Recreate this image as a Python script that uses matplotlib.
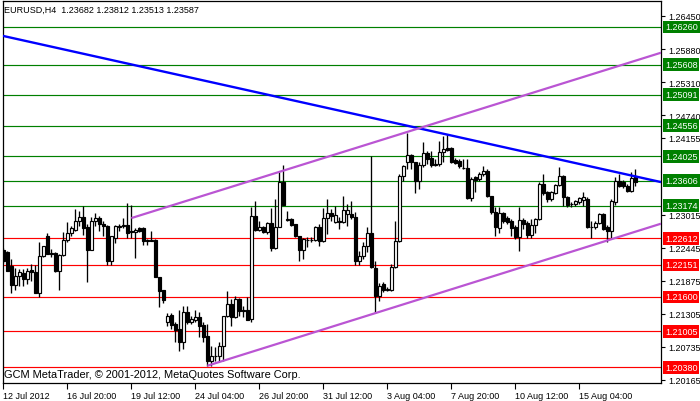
import numpy as np
import matplotlib.pyplot as plt
import matplotlib.transforms as mtransforms

plt.rcParams['font.family'] = ['Liberation Sans', 'DejaVu Sans']

# EURUSD H4 bars
opens = [1.2241, 1.2238, 1.2213, 1.2181, 1.2196, 1.2201, 1.2191, 1.2206, 1.2203, 1.2167,
         1.2231, 1.2265, 1.2236, 1.2236, 1.2205, 1.2232, 1.2258, 1.2270, 1.2276, 1.2291,
         1.2298, 1.2281, 1.2241, 1.2291, 1.2296, 1.2286, 1.2282, 1.2222, 1.2262, 1.2281,
         1.2282, 1.2284, 1.2274, 1.2272, 1.2279, 1.2279, 1.2258, 1.2258, 1.2258, 1.2194,
         1.2172, 1.2117, 1.2129, 1.2113, 1.2105, 1.2082, 1.2134, 1.2117, 1.2120, 1.2125,
         1.2111, 1.2092, 1.2049, 1.2058, 1.2058, 1.2075, 1.2127, 1.2148, 1.2125, 1.2156,
         1.2137, 1.2137, 1.2122, 1.2300, 1.2276, 1.2281, 1.2272, 1.2288, 1.2244, 1.2281,
         1.2358, 1.2293, 1.2295, 1.2286, 1.2265, 1.2241, 1.2258, 1.2258, 1.2258, 1.2281,
         1.2257, 1.2296, 1.2305, 1.2289, 1.2291, 1.2289, 1.2303, 1.2303, 1.2298, 1.2222,
         1.2231, 1.2248, 1.2270, 1.2210, 1.2162, 1.2182, 1.2172, 1.2172, 1.2212, 1.2257,
         1.2369, 1.2393, 1.2405, 1.2393, 1.2360, 1.2388, 1.2409, 1.2400, 1.2388, 1.2390,
         1.2410, 1.2417, 1.2417, 1.2396, 1.2395, 1.2383, 1.2383, 1.2331, 1.2367, 1.2364,
         1.2372, 1.2377, 1.2334, 1.2307, 1.2279, 1.2305, 1.2296, 1.2291, 1.2281, 1.2263,
         1.2293, 1.2288, 1.2267, 1.2284, 1.2295, 1.2355, 1.2341, 1.2329, 1.2339, 1.2353,
         1.2369, 1.2332, 1.2320, 1.2320, 1.2324, 1.2327, 1.2329, 1.2281, 1.2281, 1.2288,
         1.2303, 1.2281, 1.2274, 1.2324, 1.2360, 1.2358, 1.2351, 1.2343, 1.23682]
highs = [1.2244, 1.2239, 1.2225, 1.2210, 1.2208, 1.2208, 1.2210, 1.2217, 1.2215, 1.2255,
         1.2248, 1.2270, 1.2243, 1.2238, 1.2234, 1.2272, 1.2289, 1.2282, 1.2312, 1.2308,
         1.2317, 1.2286, 1.2298, 1.2305, 1.2300, 1.2291, 1.2284, 1.2265, 1.2284, 1.2286,
         1.2296, 1.2322, 1.2319, 1.2279, 1.2281, 1.2281, 1.2260, 1.2274, 1.2260, 1.2194,
         1.2172, 1.2132, 1.2132, 1.2117, 1.2137, 1.2144, 1.2144, 1.2127, 1.2137, 1.2134,
         1.2117, 1.2113, 1.2075, 1.2073, 1.2082, 1.2127, 1.2170, 1.2156, 1.2162, 1.2158,
         1.2144, 1.2160, 1.2315, 1.2326, 1.2291, 1.2282, 1.2289, 1.2314, 1.2329, 1.2376,
         1.2388, 1.2308, 1.2296, 1.2286, 1.2265, 1.2262, 1.2263, 1.2263, 1.2282, 1.2286,
         1.2314, 1.2329, 1.2312, 1.2317, 1.2298, 1.2334, 1.2320, 1.2326, 1.2307, 1.2239,
         1.2255, 1.2281, 1.2403, 1.2222, 1.2184, 1.2186, 1.2177, 1.2217, 1.2291, 1.2372,
         1.2388, 1.2443, 1.2407, 1.2393, 1.2393, 1.2427, 1.2412, 1.2412, 1.2398, 1.2429,
         1.2438, 1.2441, 1.2419, 1.2400, 1.2398, 1.2398, 1.2398, 1.2367, 1.2369, 1.2376,
         1.2386, 1.2381, 1.2334, 1.2315, 1.2315, 1.2307, 1.2300, 1.2295, 1.2284, 1.2315,
         1.2296, 1.2291, 1.2295, 1.2296, 1.2358, 1.2372, 1.2343, 1.2343, 1.2355, 1.2384,
         1.2371, 1.2334, 1.2324, 1.2327, 1.2332, 1.2341, 1.2332, 1.2291, 1.2291, 1.2305,
         1.2305, 1.2284, 1.2329, 1.2367, 1.2372, 1.2362, 1.2355, 1.2376, 1.23812]
lows = [1.2219, 1.2205, 1.2167, 1.2172, 1.2179, 1.2179, 1.2182, 1.2187, 1.2167, 1.2160,
        1.2229, 1.2234, 1.2229, 1.2203, 1.2172, 1.2231, 1.2255, 1.2265, 1.2274, 1.2282,
        1.2267, 1.2186, 1.2241, 1.2282, 1.2274, 1.2265, 1.2215, 1.2215, 1.2253, 1.2274,
        1.2279, 1.2262, 1.2262, 1.2227, 1.2272, 1.2250, 1.2250, 1.2257, 1.2194, 1.2143,
        1.2149, 1.2110, 1.2105, 1.2082, 1.2067, 1.2070, 1.2113, 1.2113, 1.2117, 1.2091,
        1.2082, 1.2041, 1.2041, 1.2049, 1.2049, 1.2049, 1.2125, 1.2110, 1.2123, 1.2127,
        1.2125, 1.2120, 1.2117, 1.2274, 1.2274, 1.2270, 1.2269, 1.2239, 1.2243, 1.2280,
        1.2319, 1.2291, 1.2282, 1.2263, 1.2222, 1.2225, 1.2246, 1.2255, 1.2257, 1.2248,
        1.2255, 1.2269, 1.2291, 1.2288, 1.2277, 1.2288, 1.2282, 1.2295, 1.2215, 1.2215,
        1.2225, 1.2238, 1.2210, 1.2132, 1.2153, 1.2168, 1.2170, 1.2170, 1.2210, 1.2255,
        1.2360, 1.2381, 1.2381, 1.2339, 1.2346, 1.2384, 1.2390, 1.2384, 1.2386, 1.2386,
        1.2393, 1.2412, 1.2391, 1.2390, 1.2383, 1.2381, 1.2329, 1.2326, 1.2341, 1.2360,
        1.2369, 1.2332, 1.2303, 1.2265, 1.2270, 1.2288, 1.2286, 1.2265, 1.2260, 1.2239,
        1.2277, 1.2262, 1.2262, 1.2270, 1.2293, 1.2336, 1.2324, 1.2326, 1.2338, 1.2351,
        1.2317, 1.2315, 1.2315, 1.2317, 1.2320, 1.2317, 1.2279, 1.2262, 1.2277, 1.2286,
        1.2276, 1.2255, 1.2260, 1.2319, 1.2350, 1.2348, 1.2341, 1.2341, 1.23513]
closes = [1.2222, 1.2205, 1.2181, 1.2196, 1.2203, 1.2191, 1.2205, 1.2203, 1.2167, 1.2231,
          1.2248, 1.2234, 1.2234, 1.2205, 1.2232, 1.2258, 1.2270, 1.2279, 1.2291, 1.2298,
          1.2279, 1.2241, 1.2291, 1.2296, 1.2286, 1.2282, 1.2222, 1.2265, 1.2282, 1.2282,
          1.2284, 1.2270, 1.2272, 1.2276, 1.2274, 1.2257, 1.2257, 1.2257, 1.2194, 1.2170,
          1.2155, 1.2127, 1.2111, 1.2103, 1.2082, 1.2134, 1.2117, 1.2122, 1.2125, 1.2110,
          1.2091, 1.2049, 1.2058, 1.2057, 1.2075, 1.2127, 1.2148, 1.2125, 1.2156, 1.2136,
          1.2136, 1.2120, 1.2300, 1.2276, 1.2281, 1.2272, 1.2288, 1.2244, 1.2281, 1.2358,
          1.2319, 1.2295, 1.2284, 1.2265, 1.2241, 1.2260, 1.2259, 1.2259, 1.2281, 1.2257,
          1.2296, 1.2305, 1.2300, 1.2301, 1.2289, 1.2310, 1.2310, 1.2298, 1.2222, 1.2231,
          1.2248, 1.2270, 1.2212, 1.2162, 1.2179, 1.2172, 1.2174, 1.2212, 1.2257, 1.2369,
          1.2386, 1.2405, 1.2393, 1.2360, 1.2388, 1.2409, 1.2398, 1.2388, 1.2390, 1.2410,
          1.2415, 1.2414, 1.2393, 1.2391, 1.2386, 1.2382, 1.2331, 1.2364, 1.2362, 1.2372,
          1.2377, 1.2334, 1.2307, 1.2281, 1.2305, 1.2291, 1.2289, 1.2279, 1.2263, 1.2293,
          1.2286, 1.2267, 1.2284, 1.2295, 1.2355, 1.2339, 1.2329, 1.2341, 1.2353, 1.2369,
          1.2332, 1.2319, 1.2321, 1.2326, 1.2331, 1.2332, 1.2281, 1.2280, 1.2288, 1.2303,
          1.2277, 1.2274, 1.2326, 1.2360, 1.2351, 1.2351, 1.2343, 1.2365, 1.23587]

x_ticks = [0, 16, 32, 48, 64, 80, 96, 112, 128, 144]
x_labels = ['12 Jul 2012', '16 Jul 20:00', '19 Jul 12:00', '24 Jul 04:00', '26 Jul 20:00',
            '31 Jul 12:00', '3 Aug 04:00', '7 Aug 20:00', '10 Aug 12:00', '15 Aug 04:00']
y_ticks = [1.26450, 1.25880, 1.25310, 1.24740, 1.24155, 1.23015, 1.22445,
           1.21875, 1.21305, 1.20735, 1.20165]

green_levels = [1.26260, 1.25608, 1.25091, 1.24556, 1.24025, 1.23606, 1.23174]
red_levels = [1.22612, 1.22151, 1.21600, 1.21005, 1.20380]

# trend lines: (bar index, price) anchor pairs
blue_t, blue_p = [0, 158], [1.26105, 1.23680]
upper_t, upper_p = [32, 158], [1.2296, 1.25678]
lower_t, lower_p = [51, 158], [1.2041, 1.22725]

header = 'EURUSD,H4  1.23682 1.23812 1.23513 1.23587'
footer = 'GCM MetaTrader, \u00a9 2001-2012, MetaQuotes Software Corp.'

XMIN, XMAX = -0.2, 164.4
YMIN, YMAX = 1.20112, 1.26709

fig = plt.figure(figsize=(7, 4.02), dpi=100)
ax = fig.add_axes([2.5/700, 18/402, 658.5/700, 382/402])
ax.set_xlim(XMIN, XMAX)
ax.set_ylim(YMIN, YMAX)

# horizontal levels
for lv in green_levels:
    ax.axhline(lv, color='#008000', lw=0.85, zorder=1)
for lv in red_levels:
    ax.axhline(lv, color='#ff0000', lw=0.85, zorder=1)

# candles
o = np.array(opens); h = np.array(highs); l = np.array(lows); c = np.array(closes)
idx = np.arange(len(o))
ax.vlines(idx, l, h, color='black', lw=0.95, zorder=3)
fc = np.where(c >= o, 'white', 'black')
ax.bar(idx, np.abs(c - o), bottom=np.minimum(o, c), width=0.62, color=fc,
       edgecolor='black', linewidth=0.85, zorder=4)

# trend lines
def ray(t, p, full=False):
    slope = (p[1] - p[0]) / (t[1] - t[0])
    t0 = XMIN if full else t[0]
    xs = np.array([t0, XMAX])
    return xs, p[0] + slope * (xs - t[0])

xs, ys = ray(blue_t, blue_p, full=True)
ax.plot(xs, ys, color='#0000ff', lw=1.7, zorder=5, solid_capstyle='butt')
for t, p in [(upper_t, upper_p), (lower_t, lower_p)]:
    xs, ys = ray(t, p)
    ax.plot(xs, ys, color='#ba55d3', lw=1.6, zorder=5, solid_capstyle='butt')

# axes styling
for s in ax.spines.values():
    s.set_color('black')
    s.set_linewidth(0.9)
ax.set_xticks(x_ticks)
ax.set_xticklabels(x_labels)
for lab in ax.get_xticklabels():
    lab.set_ha('left')
ax.set_yticks(y_ticks)
ax.set_yticklabels(['%.5f' % v for v in y_ticks])
ax.yaxis.tick_right()
ax.tick_params(axis='y', direction='out', length=3, pad=2, labelsize=6.5, width=0.8)
ax.tick_params(axis='x', direction='out', length=4, pad=2, labelsize=6.5, width=0.8)

# MT4 nudges the 1.24155 label up to clear the level box
off = mtransforms.ScaledTranslation(0, 0.11, fig.dpi_scale_trans)
t = ax.yaxis.get_major_ticks()[4]
t.label2.set_transform(t.label2.get_transform() + off)
t.tick2line.set_transform(t.tick2line.get_transform() + off)

# level price boxes on the right
for lvls, col in [(green_levels, '#008000'), (red_levels, '#ff0000')]:
    for lv in lvls:
        ax.annotate('%.5f' % lv, xy=(1, lv), xycoords=('axes fraction', 'data'),
                    xytext=(4, 0), textcoords='offset pixels', va='center', ha='left',
                    fontsize=6.5, color='white', annotation_clip=False, zorder=6,
                    bbox=dict(boxstyle='square,pad=0.2', fc=col, ec='none'))

ax.annotate(header, xy=(0, 1), xycoords='axes fraction', xytext=(2, -8),
            textcoords='offset pixels', va='center', ha='left', fontsize=6.5)
ax.annotate(footer, xy=(0, 0), xycoords='axes fraction', xytext=(2, 9),
            textcoords='offset pixels', va='center', ha='left', fontsize=7.9)

fig.savefig('out.png', dpi=100)
